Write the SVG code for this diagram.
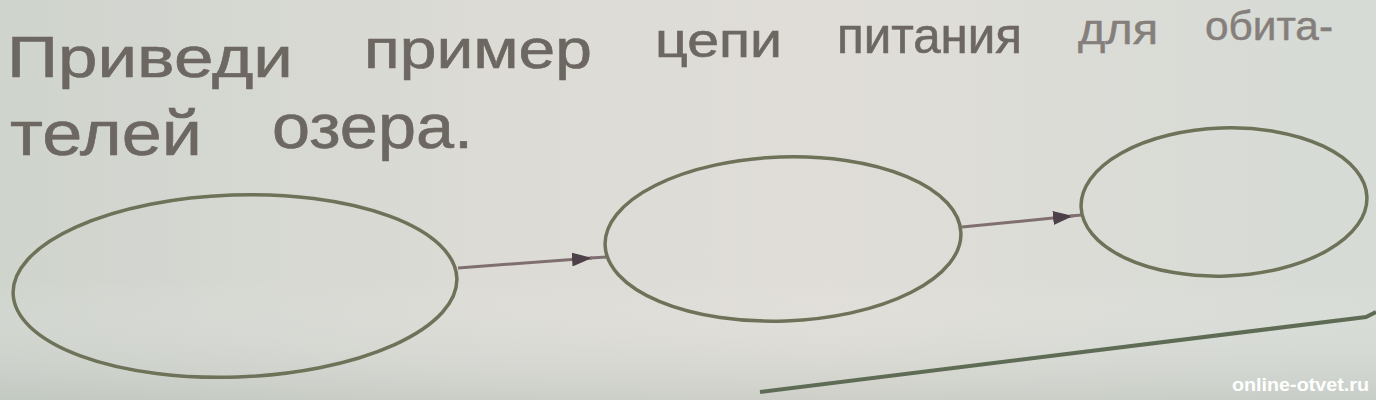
<svg xmlns="http://www.w3.org/2000/svg" width="1376" height="400" viewBox="0 0 1376 400">
  <defs>
    <linearGradient id="bg" x1="0" y1="0" x2="1" y2="0">
      <stop offset="0" stop-color="#cfd4cd"/>
      <stop offset="0.35" stop-color="#dcdbd6"/>
      <stop offset="0.6" stop-color="#e0ddd8"/>
      <stop offset="1" stop-color="#d6dbd5"/>
    </linearGradient>
    <linearGradient id="shade" x1="0" y1="0" x2="0" y2="1">
      <stop offset="0" stop-color="#ffffff" stop-opacity="0"/>
      <stop offset="0.7" stop-color="#ffffff" stop-opacity="0"/>
      <stop offset="1" stop-color="#aab5ab" stop-opacity="0.35"/>
    </linearGradient>
    <marker id="head" viewBox="0 0 20 14" refX="20" refY="7" markerWidth="20" markerHeight="14" markerUnits="userSpaceOnUse" orient="auto">
      <path d="M0 0 L20 7 L0 14 Z" fill="#4e4049"/>
    </marker>
    <style>
      .t { font-family: "Liberation Sans", Arial, sans-serif; fill: #6d6762; stroke: #6d6762; stroke-width: 0.6; }
      .t2 { font-family: "Liberation Sans", Arial, sans-serif; fill: #857f7c; stroke: #857f7c; stroke-width: 0.5; }
      .node { fill: none; stroke: #6e7258; stroke-width: 3.5; }
      .edge { fill: none; stroke: #806f70; stroke-width: 3; }
      .wm { font-family: "Liberation Sans", Arial, sans-serif; font-weight: bold; fill: #ffffff; }
    </style>
  </defs>
  <rect width="1376" height="400" fill="url(#bg)"/>
  <rect width="1376" height="400" fill="url(#shade)"/>

  <g id="title">
    <text class="t" x="7" y="77" font-size="58" textLength="286" lengthAdjust="spacingAndGlyphs">Приведи</text>
    <text class="t" x="364" y="68" font-size="56" textLength="228" lengthAdjust="spacingAndGlyphs">пример</text>
    <text class="t" x="655" y="57" font-size="48" textLength="127" lengthAdjust="spacingAndGlyphs">цепи</text>
    <text class="t" x="837" y="53" font-size="50" textLength="185" lengthAdjust="spacingAndGlyphs">питания</text>
    <text class="t2" x="1078" y="44" font-size="43" textLength="80" lengthAdjust="spacingAndGlyphs">для</text>
    <text class="t2" x="1205" y="40" font-size="41" textLength="128" lengthAdjust="spacingAndGlyphs">обита-</text>
    <text class="t" x="10" y="155" font-size="63" textLength="192" lengthAdjust="spacingAndGlyphs">телей</text>
    <text class="t" x="272" y="148" font-size="63" textLength="201" lengthAdjust="spacingAndGlyphs">озера.</text>
  </g>

  <g id="connectors">
    <path class="edge" d="M458 268 L592 258" marker-end="url(#head)"/>
    <path class="edge" d="M590 258 L607 257"/>
    <path class="edge" d="M962 227 L1073 216" marker-end="url(#head)"/>
    <path class="edge" d="M1070 216 L1082 215"/>
  </g>

  <g id="node1">
    <ellipse class="node" cx="235" cy="286" rx="222" ry="91" transform="rotate(-2 235 286)"/>
  </g>
  <g id="node2">
    <ellipse class="node" cx="783" cy="239" rx="178" ry="82" transform="rotate(-2 783 239)"/>
  </g>
  <g id="node3">
    <ellipse class="node" cx="1224" cy="202" rx="143" ry="74" transform="rotate(-2 1224 202)"/>
  </g>

  <path d="M760 392 L1366 317 L1376 312" fill="none" stroke="#5e6b55" stroke-width="4"/>

  <text class="wm" x="1232" y="391" font-size="18" textLength="137" lengthAdjust="spacingAndGlyphs">online-otvet.ru</text>
</svg>
